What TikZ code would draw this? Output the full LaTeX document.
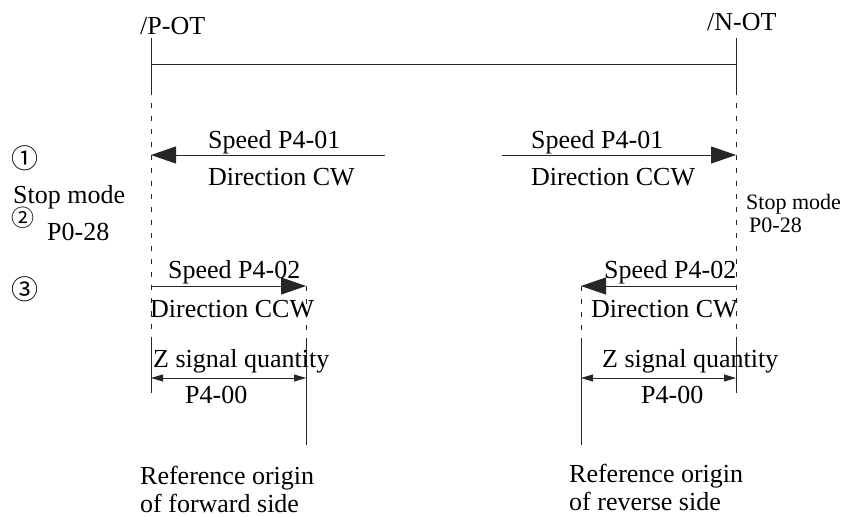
\documentclass[tikz,border=0pt]{standalone}
\usepackage{fontspec}
\setmainfont{Liberation Serif}
\newfontfamily\cjk{Noto Sans CJK SC}
\usetikzlibrary{arrows.meta}
\begin{document}
\begin{tikzpicture}[x=1pt,y=-1pt,
  lbl/.style={anchor=base west,inner sep=0pt,font=\fontsize{26}{30}\selectfont},
  slbl/.style={anchor=base west,inner sep=0pt,font=\fontsize{22}{25}\selectfont},
  num/.style={inner sep=0pt,font=\cjk\fontsize{27}{30}\selectfont},
  ln/.style={line width=0.9pt,black!85},
  dsh/.style={ln,dash pattern=on 5pt off 8pt},
  bigarrow/.style={ln,-{Triangle[length=25pt,width=17pt]}},
  dimarrow/.style={ln,{Triangle[length=12pt,width=7pt]}-{Triangle[length=12pt,width=7pt]}}]
\useasboundingbox (0,0) rectangle (868,517);
% coordinates
\coordinate (Ltop) at (151,38);
\coordinate (Ldash) at (151,90);
\coordinate (Lsol) at (151,342);
\coordinate (Lbot) at (151,393);
\coordinate (Rtop) at (736,38);
\coordinate (Rdash) at (736,90);
\coordinate (Rsol) at (736,342);
\coordinate (Rbot) at (736,393);
\coordinate (HL) at (151,64);
\coordinate (HR) at (736,64);
\coordinate (A1Ls) at (385,155);
\coordinate (A1Le) at (151,155);
\coordinate (A1Rs) at (502,155);
\coordinate (A1Re) at (736,155);
\coordinate (A3Ls) at (151,286);
\coordinate (A3Le) at (306,286);
\coordinate (A3Rs) at (736,286);
\coordinate (A3Re) at (581,286);
\coordinate (FwdSol) at (306,342);
\coordinate (FwdBot) at (306,445);
\coordinate (RevSol) at (581,342);
\coordinate (RevBot) at (581,445);
\coordinate (DLl) at (151,378);
\coordinate (DLr) at (306,378);
\coordinate (DRl) at (581,378);
\coordinate (DRr) at (736,378);
% boundary lines
\draw[ln] (Ltop) -- (Ldash);
\draw[dsh] (Ldash) -- (Lsol);
\draw[ln] (Lsol) -- (Lbot);
\draw[ln] (Rtop) -- (Rdash);
\draw[dsh] (Rdash) -- (Rsol);
\draw[ln] (Rsol) -- (Rbot);
\draw[ln] (HL) -- (HR);
% row 1 arrows
\draw[bigarrow] (A1Ls) -- (A1Le);
\draw[bigarrow] (A1Rs) -- (A1Re);
% row 3 arrows
\draw[bigarrow] (A3Ls) -- (A3Le);
\draw[bigarrow] (A3Rs) -- (A3Re);
\draw[dsh] (A3Le) -- (FwdSol);
\draw[ln] (FwdSol) -- (FwdBot);
\draw[dsh] (A3Re) -- (RevSol);
\draw[ln] (RevSol) -- (RevBot);
% dimension arrows
\draw[dimarrow] (DLl) -- (DLr);
\draw[dimarrow] (DRl) -- (DRr);
% labels
\node[lbl] (pot) at (140,34) {/P-OT};
\node[lbl] (not) at (707,30) {/N-OT};
\node[num] (n1) at (25,158) {①};
\node[num,font=\cjk\fontsize{23}{26}\selectfont] (n2) at (23,218) {②};
\node[num] (n3) at (25,289) {③};
\node[lbl] (s1l) at (208,148) {Speed P4-01};
\node[lbl] (d1l) at (208,185) {Direction CW};
\node[lbl] (s1r) at (531,148) {Speed P4-01};
\node[lbl] (d1r) at (531,185) {Direction CCW};
\node[lbl] (stopl) at (13,203) {Stop mode};
\node[lbl] (p028l) at (47,240) {P0-28};
\node[slbl] (stopr) at (746,209) {Stop mode};
\node[slbl] (p028r) at (749,232) {P0-28};
\node[lbl] (s3l) at (168,278) {Speed P4-02};
\node[lbl] (d3l) at (150,317) {Direction CCW};
\node[lbl] (s3r) at (604,278) {Speed P4-02};
\node[lbl] (d3r) at (591,317) {Direction CW};
\node[lbl] (zl) at (153,367) {Z signal quantity};
\node[lbl] (pl) at (185,403) {P4-00};
\node[lbl] (zr) at (602,367) {Z signal quantity};
\node[lbl] (pr) at (641,403) {P4-00};
\node[lbl] (ref1a) at (140,484) {Reference origin};
\node[lbl] (ref1b) at (140,512) {of forward side};
\node[lbl] (ref2a) at (569,482) {Reference origin};
\node[lbl] (ref2b) at (569,510) {of reverse side};
\end{tikzpicture}
\end{document}
